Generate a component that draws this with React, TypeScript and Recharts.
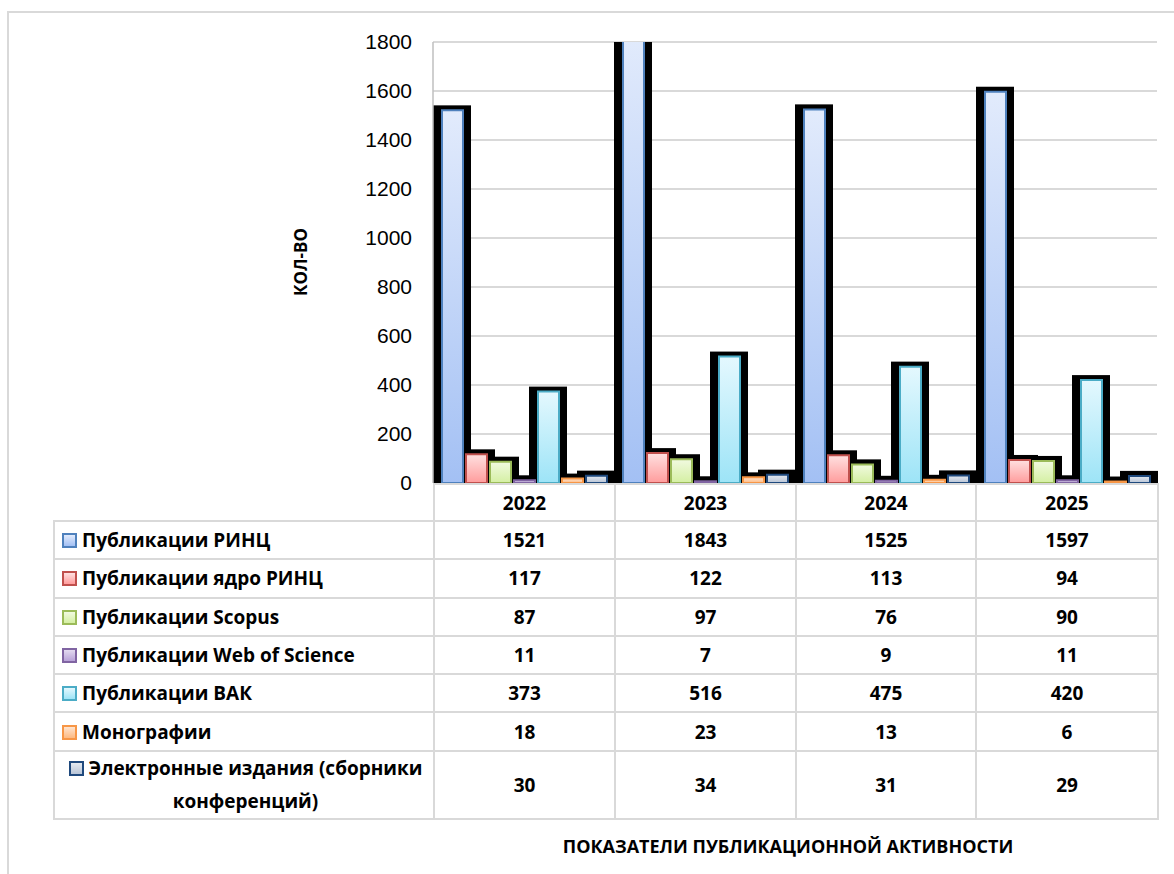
import React from "react";
import { BarChart, Bar, XAxis, YAxis, CartesianGrid } from "recharts";

const years = ["2022", "2023", "2024", "2025"];
const rinc = [1521, 1843, 1525, 1597];
const rincCore = [117, 122, 113, 94];
const scopus = [87, 97, 76, 90];
const wos = [11, 7, 9, 11];
const vak = [373, 516, 475, 420];
const monographs = [18, 23, 13, 6];
const ebooks = [30, 34, 31, 29];

const seriesNames = [
    "Публикации РИНЦ",
    "Публикации ядро РИНЦ",
    "Публикации Scopus",
    "Публикации Web of Science",
    "Публикации ВАК",
    "Монографии",
    "Электронные издания (сборники конференций)",
];
const seriesValues = [rinc, rincCore, scopus, wos, vak, monographs, ebooks];

const yTicks = [0, 200, 400, 600, 800, 1000, 1200, 1400, 1600, 1800];

const borderColors = ["#4f81bd", "#c0504d", "#9bbb59", "#8064a2", "#4bacc6", "#f79646", "#1f497d"];
const topColors = ["#e2ebfc", "#ffe0e0", "#f1fae0", "#e3daf0", "#e4f8fe", "#ffe4cf", "#e4e9f0"];
const bottomColors = ["#a3c0f4", "#ff9c9c", "#d4efa2", "#b8a2d8", "#9de4f7", "#fdba82", "#b8c4d6"];

const data = years.map((year, i) => {
    const row: Record<string, string | number> = { year };
    seriesValues.forEach((vals, s) => {
        row[`s${s}`] = vals[i];
    });
    return row;
});

const FONT = "'Open Sans', Roboto, sans-serif";
const GRID = "#d9d9d9";

// black backdrop drawn under every bar, like the thick outline in the original
const ShadowShape = (props: any) => {
    const { x, y, width, height } = props;
    if (x == null || width == null) return null;
    return <rect x={x - 9} y={y - 5} width={width + 17} height={height + 5} fill="#000" />;
};

export default function App() {
    return (
        <div style={{ position: "relative", width: 1174, height: 874, background: "#fff", overflow: "hidden", fontFamily: FONT }}>
            <style>{"body{margin:0}"}</style>
            <div
                style={{
                    position: "absolute",
                    left: 7,
                    top: 11,
                    width: 1200,
                    height: 900,
                    borderLeft: `2px solid ${GRID}`,
                    borderTop: `2px solid ${GRID}`,
                }}
            />
            <div style={{ position: "absolute", left: 0, top: 0 }}>
                <BarChart
                    width={1174}
                    height={500}
                    data={data}
                    margin={{ top: 42, right: 17, left: 333, bottom: 17 }}
                    barCategoryGap={9}
                    barGap={3}
                >
                    <defs>
                        {borderColors.map((c, i) => (
                            <linearGradient key={i} id={`g${i}`} x1="0" y1="0" x2="0" y2="1">
                                <stop offset="0%" stopColor={topColors[i]} />
                                <stop offset="100%" stopColor={bottomColors[i]} />
                            </linearGradient>
                        ))}
                    </defs>
                    <CartesianGrid xAxisId="m" vertical={false} stroke={GRID} strokeWidth={2} />
                    <XAxis xAxisId="s" dataKey="year" hide />
                    <XAxis xAxisId="m" dataKey="year" hide />
                    <YAxis
                        domain={[0, 1800]}
                        ticks={yTicks}
                        interval={0}
                        allowDataOverflow
                        width={100}
                        tickSize={0}
                        tickMargin={21}
                        tickLine={false}
                        axisLine={{ stroke: "#bfbfbf", strokeWidth: 1.5 }}
                        tick={{ fill: "#000", fontSize: 21, fontFamily: "'Liberation Sans', Arial, sans-serif" }}
                    />
                    {seriesNames.map((name, i) => (
                        <Bar
                            key={`sh${i}`}
                            xAxisId="s"
                            dataKey={`s${i}`}
                            name={`${name} shadow`}
                            shape={ShadowShape}
                            isAnimationActive={false}
                        />
                    ))}
                    {seriesNames.map((name, i) => (
                        <Bar
                            key={`b${i}`}
                            xAxisId="m"
                            dataKey={`s${i}`}
                            name={name}
                            fill={`url(#g${i})`}
                            stroke={borderColors[i]}
                            strokeWidth={2}
                            isAnimationActive={false}
                        />
                    ))}
                </BarChart>
            </div>

            <div
                style={{
                    position: "absolute",
                    left: 300,
                    top: 262,
                    transform: "translate(-50%, -50%) rotate(-90deg)",
                    fontWeight: 700,
                    fontSize: 17,
                    whiteSpace: "nowrap",
                }}
            >
                КОЛ-ВО
            </div>

            <table
                style={{
                    position: "absolute",
                    left: 53,
                    top: 483,
                    width: 1104,
                    borderCollapse: "collapse",
                    tableLayout: "fixed",
                    fontWeight: 700,
                    fontSize: 19,
                    color: "#000",
                }}
            >
                <colgroup>
                    <col style={{ width: 380 }} />
                    <col style={{ width: 181 }} />
                    <col style={{ width: 181 }} />
                    <col style={{ width: 180 }} />
                    <col style={{ width: 182 }} />
                </colgroup>
                <tbody>
                    <tr style={{ height: 37 }}>
                        <td style={{ border: "none", padding: 0 }} />
                        {years.map((y) => (
                            <td key={y} style={{ border: `2px solid ${GRID}`, textAlign: "center", padding: 0 }}>
                                {y}
                            </td>
                        ))}
                    </tr>
                    {seriesNames.map((name, s) => {
                        const long = s === seriesNames.length - 1;
                        return (
                            <tr key={name} style={{ height: long ? 67 : 38.3 }}>
                                <td
                                    style={{
                                        border: `2px solid ${GRID}`,
                                        padding: long ? "0 1px 0 4px" : "0 4px 0 7px",
                                        textAlign: long ? "center" : "left",
                                        lineHeight: long ? "33px" : "normal",
                                        whiteSpace: "normal",
                                    }}
                                >
                                    <span
                                        style={{
                                            display: "inline-block",
                                            width: 11,
                                            height: 11,
                                            border: `2px solid ${borderColors[s]}`,
                                            background: `linear-gradient(${topColors[s]}, ${bottomColors[s]})`,
                                            marginRight: 5,
                                            verticalAlign: "-1px",
                                        }}
                                    />
                                    {name}
                                </td>
                                {seriesValues[s].map((v, i) => (
                                    <td key={i} style={{ border: `2px solid ${GRID}`, textAlign: "center", padding: 0 }}>
                                        {v}
                                    </td>
                                ))}
                            </tr>
                        );
                    })}
                </tbody>
            </table>

            <div
                style={{
                    position: "absolute",
                    left: 433,
                    top: 834,
                    width: 710,
                    textAlign: "center",
                    fontWeight: 700,
                    fontSize: 18,
                }}
            >
                ПОКАЗАТЕЛИ ПУБЛИКАЦИОННОЙ АКТИВНОСТИ
            </div>
        </div>
    );
}
